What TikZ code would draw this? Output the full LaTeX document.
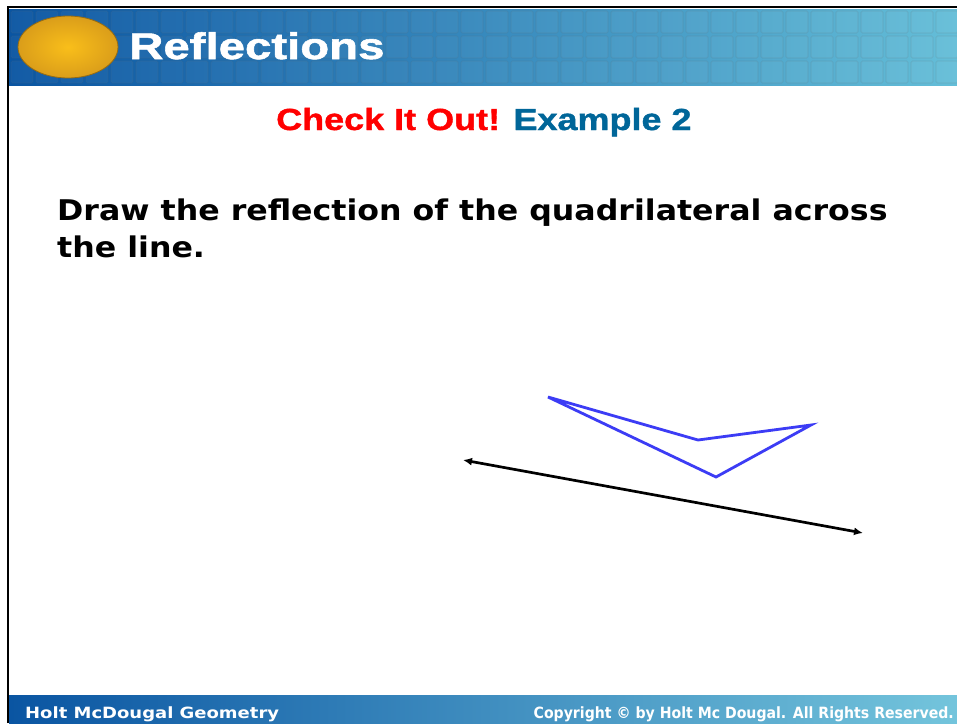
\documentclass[tikz,border=0pt]{standalone}
\usepackage{fontspec}
\setmainfont{DejaVu Sans}
\newfontfamily\headfont[FakeStretch=1.28,FakeBold=1.5]{Liberation Sans}
\newfontfamily\checkfont[FakeStretch=1.18,FakeBold=1.2]{Liberation Sans}
\newfontfamily\taskfont[FakeStretch=1.11]{DejaVu Sans}
\newfontfamily\seriesfont[FakeStretch=1.16]{DejaVu Sans}
\newfontfamily\footfont[FakeStretch=0.91]{DejaVu Sans}
\usetikzlibrary{arrows.meta}
\definecolor{bannerdark}{HTML}{0A55A2}
\definecolor{bannerlight}{HTML}{64BED8}
\definecolor{ovalgold}{HTML}{F8B31E}
\definecolor{examplecol}{HTML}{006699}
\definecolor{shapeblue}{HTML}{3C3CF5}
\tikzset{
  tile/.style={draw=black!60,draw opacity=0.12,fill=white,fill opacity=0.04,rounded corners=1.5pt,line width=1.2pt},
  figline/.style={draw=shapeblue,line width=2.8pt,line join=miter},
  mirror/.style={line width=2.7pt,{Latex[length=9pt,width=8pt]}-{Latex[length=9pt,width=8pt]}}
}
\begin{document}
\begin{tikzpicture}[x=1pt,y=-1pt]
\useasboundingbox (0,0) rectangle (957,723);
\fill[white] (0,0) rectangle (957,723);

% banner on top
\shade[left color=bannerdark,right color=bannerlight] (9,9) rectangle (957,85);
\foreach \i in {0,...,37}
  \foreach \j in {0,1,2}
    \draw[tile] (11+25*\i,11+25*\j) rectangle +(22,22);
\shade[inner color=ovalgold!85!yellow,outer color=ovalgold!88!black,draw=ovalgold!60!black,line width=0.8pt] (68,47) ellipse (50 and 31);
\node[anchor=base west,text=white,inner sep=0] (title) at (129,59)
  {\headfont\fontsize{37}{40}\selectfont\bfseries Reflections};

% footer
\shade[left color=bannerdark,right color=bannerlight!90!white] (9,695) rectangle (957,723);
\node[anchor=base west,text=white,inner sep=0] (series) at (25,718)
  {\seriesfont\fontsize{15.5}{18}\selectfont\bfseries Holt McDougal Geometry};
\node[anchor=base east,text=white,inner sep=0] (copyright) at (954,718)
  {\footfont\fontsize{15.5}{18}\selectfont\bfseries Copyright \textcopyright{} by Holt Mc Dougal. All Rights Reserved.};

% frame
\draw[line width=2.2pt] (8,723) -- (8,7) -- (957,7);

% texts
\node[anchor=base west,inner sep=0] (check) at (276,130)
  {\checkfont\fontsize{30.5}{34}\selectfont\bfseries\textcolor{red}{Check It Out!} \textcolor{examplecol}{Example 2}};
\node[anchor=north west,align=left,inner sep=0,
  font=\taskfont\fontsize{28.5}{37}\selectfont\bfseries] (task) at (57,199)
  {Draw the reflection of the quadrilateral across\\the line.};

% quadrilateral and line
\coordinate (qa) at (548,397);
\coordinate (qb) at (698,440);
\coordinate (qc) at (811,425);
\coordinate (qd) at (716,477);
\draw[figline] (qa) -- (qb) -- (qc) -- (qd) -- cycle;
\coordinate (la) at (463,460);
\coordinate (lb) at (863,533);
\draw[mirror] (la) -- (lb);
\end{tikzpicture}
\end{document}
